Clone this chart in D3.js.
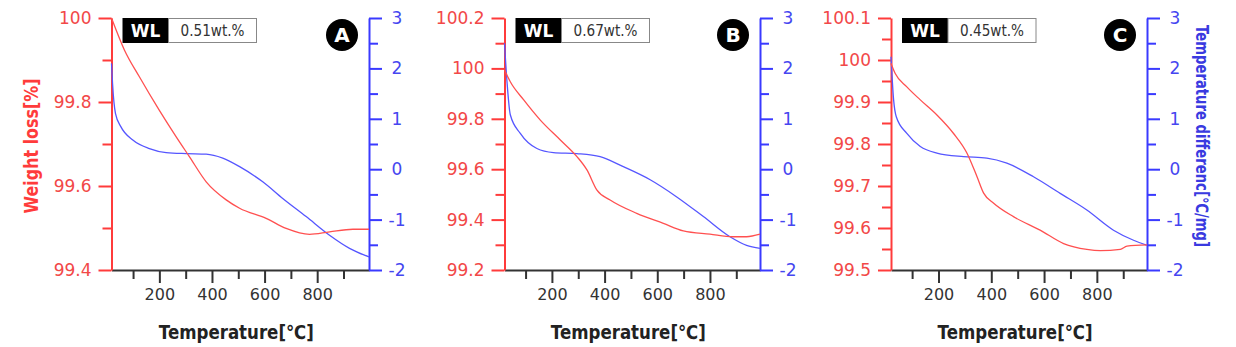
<!DOCTYPE html>
<html>
<head>
<meta charset="utf-8">
<script src="https://cdn.jsdelivr.net/npm/d3@7"></script>
<style>
  body { margin: 0; background: #fff; }
  text { font-family: "DejaVu Sans", sans-serif; }
</style>
</head>
<body>
<div id="chart"></div>
<script>
// panel letters and weight-loss badges
const panelNames = ["A", "B", "C"];
const wlLabels = ["0.51wt.%", "0.67wt.%", "0.45wt.%"];

// temperature axis
const xTicks = [200, 400, 600, 800];
const xMinorTicks = [100, 300, 500, 700, 900];

// left axis (weight loss %) per panel
const wlDomainA = [99.4, 100];
const wlTicksA = [99.4, 99.6, 99.8, 100];
const wlMinorA = [99.5, 99.7, 99.9];
const wlDomainB = [99.2, 100.2];
const wlTicksB = [99.2, 99.4, 99.6, 99.8, 100, 100.2];
const wlMinorB = [99.3, 99.5, 99.7, 99.9, 100.1];
const wlDomainC = [99.5, 100.1];
const wlTicksC = [99.5, 99.6, 99.7, 99.8, 99.9, 100, 100.1];
const wlMinorC = [99.55, 99.65, 99.75, 99.85, 99.95, 100.05];

// right axis (temperature difference)
const dtDomain = [-2, 3];
const dtTicks = [-2, -1, 0, 1, 2, 3];
const dtMinor = [-1.5, -0.5, 0.5, 1.5, 2.5];

// panel A
const tempRangeA = [18, 997];
const wlTempA = [18, 67, 124, 200, 264, 314, 378, 454, 505, 606, 682, 771, 847, 936, 997];
const wlA = [100.0, 99.924, 99.86, 99.78, 99.717, 99.67, 99.61, 99.567, 99.547, 99.523, 99.499, 99.485, 99.491, 99.497, 99.497];
const dtTempA = [18, 22, 33, 54, 99, 162, 226, 302, 378, 441, 505, 593, 669, 758, 847, 923, 997];
const dtA = [2.10, 1.70, 1.11, 0.84, 0.58, 0.41, 0.33, 0.31, 0.30, 0.22, 0.05, -0.25, -0.58, -0.94, -1.31, -1.57, -1.74];

// panel B
const tempRangeB = [20, 990];
const wlTempB = [20, 42, 93, 156, 232, 295, 333, 371, 421, 522, 623, 699, 800, 888, 939, 990];
const wlB = [99.994, 99.947, 99.875, 99.795, 99.716, 99.65, 99.597, 99.517, 99.478, 99.425, 99.385, 99.355, 99.342, 99.332, 99.332, 99.342];
const dtTempB = [20, 30, 42, 80, 143, 206, 295, 383, 471, 573, 674, 775, 876, 939, 990];
const dtB = [2.50, 1.70, 1.08, 0.71, 0.41, 0.33, 0.31, 0.25, 0.05, -0.21, -0.55, -0.94, -1.34, -1.51, -1.57];

// panel C
const tempRangeC = [20, 990];
const wlTempC = [20, 36, 80, 131, 194, 257, 308, 346, 371, 409, 484, 585, 674, 762, 813, 889, 914, 990];
const wlC = [99.992, 99.968, 99.936, 99.905, 99.869, 99.825, 99.778, 99.722, 99.683, 99.659, 99.627, 99.595, 99.563, 99.549, 99.546, 99.549, 99.557, 99.560];
const dtTempC = [20, 30, 40, 80, 131, 194, 295, 383, 459, 560, 661, 762, 863, 939, 990];
const dtC = [2.23, 1.37, 1.04, 0.71, 0.45, 0.32, 0.25, 0.22, 0.12, -0.15, -0.48, -0.81, -1.21, -1.41, -1.51];

const W = 1236, H = 347;
const plotTop = 18, plotBottom = 270;
const panelLeft = [111.5, 504.5, 891];
const panelRight = [369, 760, 1147];

const red = "#ff3b3b", redText = "#f24848";
const blue = "#3a3aff", blueText = "#4646f0";

const panels = [
  { temp: tempRangeA, wlDom: wlDomainA, wlT: wlTicksA, wlM: wlMinorA, wx: wlTempA, wy: wlA, dx: dtTempA, dy: dtA },
  { temp: tempRangeB, wlDom: wlDomainB, wlT: wlTicksB, wlM: wlMinorB, wx: wlTempB, wy: wlB, dx: dtTempB, dy: dtB },
  { temp: tempRangeC, wlDom: wlDomainC, wlT: wlTicksC, wlM: wlMinorC, wx: wlTempC, wy: wlC, dx: dtTempC, dy: dtC }
];

const svg = d3.select("#chart").append("svg")
  .attr("width", W)
  .attr("height", H);

panels.forEach((p, i) => {
  const L = panelLeft[i], R = panelRight[i];
  const x = d3.scaleLinear().domain(p.temp).range([L, R]);
  const yL = d3.scaleLinear().domain(p.wlDom).range([plotBottom, plotTop]);
  const yR = d3.scaleLinear().domain(dtDomain).range([plotBottom, plotTop]);
  const g = svg.append("g");

  // bottom axis, minor then major
  const xm = g.append("g")
    .attr("transform", `translate(0,${plotBottom})`)
    .call(d3.axisBottom(x).tickValues(xMinorTicks).tickSize(9).tickFormat(""))
    .call(a => a.select(".domain").remove());
  xm.selectAll("line").attr("stroke", "#333").attr("stroke-width", 2);
  const xa = g.append("g")
    .attr("transform", `translate(0,${plotBottom})`)
    .call(d3.axisBottom(x).tickValues(xTicks).tickSize(13).tickSizeOuter(0).tickPadding(6));
  xa.select(".domain").attr("stroke", "#333").attr("stroke-width", 2);
  xa.selectAll("line").attr("stroke", "#333").attr("stroke-width", 2);
  xa.selectAll("text")
    .attr("fill", "#333")
    .style("font-size", "16px")
    .attr("font-family", "DejaVu Sans");

  g.append("text")
    .attr("x", (L + R) / 2 - 4)
    .attr("y", 339)
    .attr("text-anchor", "middle")
    .attr("fill", "#222")
    .attr("font-family", "DejaVu Sans Condensed")
    .attr("font-weight", "bold")
    .attr("font-size", 19)
    .attr("textLength", 155)
    .attr("lengthAdjust", "spacingAndGlyphs")
    .text("Temperature[℃]");

  // left axis
  g.append("g")
    .attr("transform", `translate(${L},0)`)
    .call(d3.axisLeft(yL).tickValues(p.wlM).tickSize(9).tickFormat(""))
    .call(a => a.select(".domain").remove())
    .selectAll("line").attr("stroke", red).attr("stroke-width", 2);
  const la = g.append("g")
    .attr("transform", `translate(${L},0)`)
    .call(d3.axisLeft(yL).tickValues(p.wlT).tickSize(13).tickSizeOuter(0).tickPadding(7)
      .tickFormat(d => String(+d.toFixed(2))));
  la.select(".domain").attr("stroke", red).attr("stroke-width", 2);
  la.selectAll("line").attr("stroke", red).attr("stroke-width", 2);
  la.selectAll("text").attr("fill", redText).style("font-size", "17px");

  // right axis
  g.append("g")
    .attr("transform", `translate(${R},0)`)
    .call(d3.axisRight(yR).tickValues(dtMinor).tickSize(9).tickFormat(""))
    .call(a => a.select(".domain").remove())
    .selectAll("line").attr("stroke", blue).attr("stroke-width", 2);
  const ra = g.append("g")
    .attr("transform", `translate(${R},0)`)
    .call(d3.axisRight(yR).tickValues(dtTicks).tickSize(13).tickSizeOuter(0).tickPadding(7)
      .tickFormat(d => String(d)));
  ra.select(".domain").attr("stroke", blue).attr("stroke-width", 2);
  ra.selectAll("line").attr("stroke", blue).attr("stroke-width", 2);
  ra.selectAll("text").attr("fill", blueText).style("font-size", "17px")
    .attr("text-anchor", "middle").attr("x", 28);

  // curves
  const wlPts = p.wx.map((t, k) => [t, p.wy[k]]);
  const dtPts = p.dx.map((t, k) => [t, p.dy[k]]);
  g.append("path")
    .datum(dtPts)
    .attr("fill", "none")
    .attr("stroke", "#5656ff")
    .attr("stroke-width", 1.3)
    .attr("d", d3.line().x(d => x(d[0])).y(d => yR(d[1])).curve(d3.curveMonotoneX));
  g.append("path")
    .datum(wlPts)
    .attr("fill", "none")
    .attr("stroke", "#ff5050")
    .attr("stroke-width", 1.3)
    .attr("d", d3.line().x(d => x(d[0])).y(d => yL(d[1])).curve(d3.curveMonotoneX));

  // WL badge
  const bx = L + 11, by = 18;
  g.append("rect").attr("x", bx).attr("y", by).attr("width", 46).attr("height", 25).attr("fill", "#000");
  g.append("text")
    .attr("x", bx + 23).attr("y", by + 19)
    .attr("text-anchor", "middle")
    .attr("fill", "#fff")
    .attr("font-weight", "bold")
    .attr("font-size", 17)
    .text("WL");
  g.append("rect").attr("x", bx + 46).attr("y", by + 0.5).attr("width", 88).attr("height", 24)
    .attr("fill", "#fff").attr("stroke", "#888").attr("stroke-width", 1);
  g.append("text")
    .attr("x", bx + 90).attr("y", by + 18)
    .attr("text-anchor", "middle")
    .attr("fill", "#333")
    .attr("font-family", "DejaVu Sans Condensed")
    .attr("font-size", 15)
    .attr("textLength", 64)
    .attr("lengthAdjust", "spacingAndGlyphs")
    .text(wlLabels[i]);

  // panel letter
  g.append("circle").attr("cx", R - 27).attr("cy", 35).attr("r", 16).attr("fill", "#000");
  g.append("text")
    .attr("x", R - 27).attr("y", 42)
    .attr("text-anchor", "middle")
    .attr("fill", "#fff")
    .attr("font-weight", "bold")
    .attr("font-size", 20)
    .text(panelNames[i]);
});

// axis titles
svg.append("text")
  .attr("transform", "translate(38,146) rotate(-90)")
  .attr("text-anchor", "middle")
  .attr("fill", red)
  .attr("font-family", "DejaVu Sans Condensed")
  .attr("font-weight", "bold")
  .attr("font-size", 20)
  .attr("textLength", 135)
  .attr("lengthAdjust", "spacingAndGlyphs")
  .text("Weight loss[%]");

svg.append("text")
  .attr("transform", "translate(1196,136) rotate(90)")
  .attr("text-anchor", "middle")
  .attr("fill", "#3a3ae0")
  .attr("font-family", "DejaVu Sans Condensed")
  .attr("font-weight", "bold")
  .attr("font-size", 17)
  .attr("textLength", 222)
  .attr("lengthAdjust", "spacingAndGlyphs")
  .text("Temperature differenc[℃/mg]");
</script>
</body>
</html>
